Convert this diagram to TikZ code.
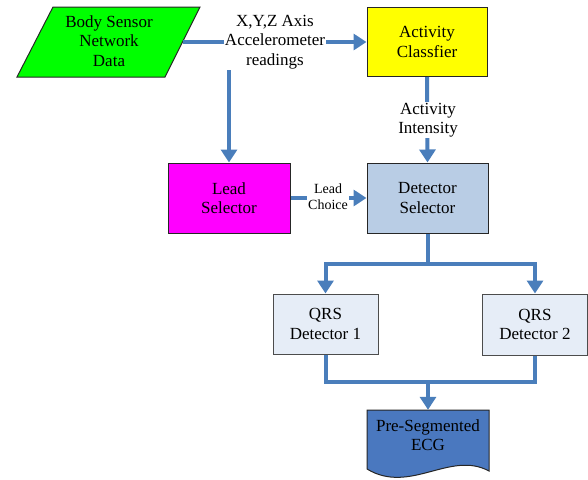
\documentclass[tikz,border=0pt]{standalone}
\usepackage{fontspec}
\setmainfont{Liberation Serif}
\usetikzlibrary{arrows.meta}
\definecolor{arr}{HTML}{4A7EBB}
\definecolor{detfill}{HTML}{B9CDE5}
\definecolor{qrsfill}{HTML}{E6EDF7}
\definecolor{docfill}{HTML}{4A78BF}
\definecolor{bsngreen}{HTML}{00FF00}
\definecolor{actyellow}{HTML}{FFFF00}
\definecolor{leadmag}{HTML}{FF00FF}
\begin{document}
\begin{tikzpicture}[x=1pt,y=-1pt,
  flow/.style={draw=arr, line width=4pt, -{Triangle[length=13pt,width=16pt]}},
  plain/.style={draw=arr, line width=4pt},
  txt/.style={font=\rmfamily\fontsize{17}{19.5}\selectfont},
  box/.style={draw=black!85, line width=1pt, align=center, inner sep=0pt, txt},
  qbox/.style={box, draw=black!70, fill=qrsfill, minimum width=105pt, minimum height=60pt},
  lbl/.style={fill=white, inner sep=1pt, align=center, txt},
  slbl/.style={fill=white, inner sep=1pt, align=center, font=\rmfamily\fontsize{14}{16}\selectfont}]
\useasboundingbox (0,0) rectangle (588,479);
% Body sensor network data (parallelogram)
\draw[fill=bsngreen, draw=black!85, line width=1pt] (53,7) -- (200,7) -- (165,77) -- (17,77) -- cycle;
\node[align=center, inner sep=0pt, txt] (bsn) at (109,41) {Body Sensor\\Network\\Data};
\coordinate (bsnR) at (182.5,42);
\coordinate (split) at (229,42);
% Boxes
\node[box, fill=actyellow, minimum width=120pt, minimum height=69pt] (act) at (427,42) {Activity\\Classfier};
\node[box, fill=leadmag, minimum width=122pt, minimum height=70pt] (lead) at (229,198) {Lead\\Selector};
\node[box, fill=detfill, minimum width=121pt, minimum height=70pt] (det) at (427.5,198) {Detector\\Selector};
\node[qbox] (q1) at (325.5,324) {QRS\\Detector 1};
\node[qbox, minimum width=105pt, minimum height=61pt] (q2) at (535,324.5) {QRS\\Detector 2};
% Document shape
\draw[fill=docfill, draw=black!85, line width=1pt] (367,410) -- (489,410) -- (489,471)
  .. controls (450,450) and (410,495) .. (367,469) -- cycle;
\node[minimum width=122pt, minimum height=60pt, inner sep=0pt] (ecg) at (428,440) {};
\node[align=center, inner sep=0pt, txt] (ecgtxt) at (428,435) {Pre-Segmented\\ECG};
% Connectors
\draw[flow] (bsnR) -- (act.west);
\draw[flow] (split) -- (lead.north);
\node[lbl] (xyz) at (275,42) {X,Y,Z Axis\\Accelerometer\\readings};
\draw[flow] (act.south) -- (det.north);
\node[lbl] (ai) at (428,120) {Activity\\Intensity};
\draw[flow] (lead.east) -- (det.west);
\node[slbl] (lc) at (328,197) {Lead\\Choice};
\coordinate (d1) at (427.5,264);
\draw[plain] (det.south) -- (d1);
\draw[flow] (d1) -| (q1.north);
\draw[flow] (d1) -| (q2.north);
\coordinate (m) at (428,381.5);
\draw[plain] (q1.south) |- (m);
\draw[plain] (q2.south) |- (m);
\draw[flow] (m) -- (ecg.north);
\end{tikzpicture}
\end{document}
